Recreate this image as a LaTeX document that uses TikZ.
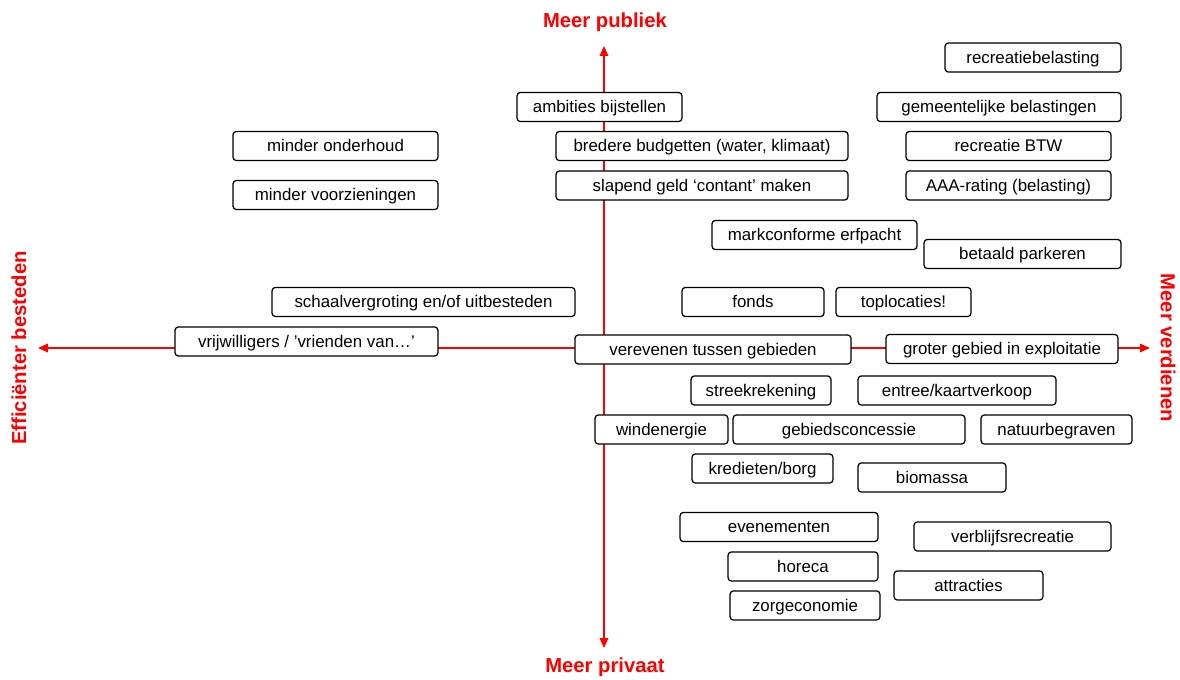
\documentclass[tikz,border=0pt]{standalone}
\usepackage{fontspec}
\setmainfont{Liberation Sans}
\usetikzlibrary{arrows.meta}

\begin{document}
\begin{tikzpicture}[
    x=0.025cm, y=-0.025cm,
    box/.style={draw, rounded corners=2.5pt, line width=0.9pt, fill=white,
                minimum height=0.73cm, inner sep=0pt,
                text height=11pt, text depth=2.5pt,
                font=\fontsize{12}{14}\selectfont},
    w/.style={minimum width=#1*0.025cm},
    axis/.style={red, line width=1pt, -{Triangle[length=7pt, width=6pt]}},
    axislabel/.style={red, font=\fontsize{14.4}{16}\selectfont\bfseries}
]
\useasboundingbox (0,0) rectangle (1180,679);

\coordinate (centre) at (604,348);
\coordinate (top)    at (604,46);
\coordinate (bottom) at (604,648);
\coordinate (left)   at (38,348);
\coordinate (right)  at (1150,348);

\draw[axis] (centre) -- (top);
\draw[axis] (centre) -- (bottom);
\draw[axis] (centre) -- (left);
\draw[axis] (centre) -- (right);

% Axis labels
\node[axislabel] (publiek) at (605,22)  {Meer publiek};
\node[axislabel] (privaat) at (605,667) {Meer privaat};
\node[axislabel, rotate=90]  (besteden)  at (19,348)   {Efficiënter besteden};
\node[axislabel, rotate=-90] (verdienen) at (1168,348) {Meer verdienen};

% Top half
\node[box, w=176] (recrbel)   at (1033,57.5)  {recreatiebelasting};
\node[box, w=165] (ambities)  at (599.5,107)  {ambities bijstellen};
\node[box, w=244] (gemeente)  at (999,107)    {gemeentelijke belastingen};
\node[box, w=205] (onderhoud) at (335.5,146)  {minder onderhoud};
\node[box, w=292] (budget)    at (702,146)    {bredere budgetten (water, klimaat)};
\node[box, w=205] (btw)       at (1008.5,146) {recreatie BTW};
\node[box, w=205] (voorz)     at (335.5,195)  {minder voorzieningen};
\node[box, w=292] (slapend)   at (702,185.5)  {slapend geld ‘contant’ maken};
\node[box, w=205] (aaa)       at (1008.5,185.5) {AAA-rating (belasting)};
\node[box, w=205] (erfpacht)  at (814.5,235)  {markconforme erfpacht};
\node[box, w=197] (parkeren)  at (1022.5,254) {betaald parkeren};
\node[box, w=303] (schaal)    at (423.5,302)  {schaalvergroting en/of uitbesteden};
\node[box, w=142] (fonds)     at (753,302)    {fonds};
\node[box, w=135] (toploc)    at (903.5,302)  {toplocaties!};

% Along the horizontal axis
\node[box, w=263] (vrijw)     at (306.5,341.5) {vrijwilligers / ’vrienden van…’};
\node[box, w=276] (verevenen) at (713,349.5)  {verevenen tussen gebieden};
\node[box, w=232] (groter)    at (1002,349)   {groter gebied in exploitatie};

% Bottom half
\node[box, w=140] (streek)    at (761,390.5)  {streekrekening};
\node[box, w=198] (entree)    at (957,390.5)  {entree/kaartverkoop};
\node[box, w=133] (wind)      at (661.5,429.5) {windenergie};
\node[box, w=232] (concessie) at (849,429.5)  {gebiedsconcessie};
\node[box, w=151] (natuur)    at (1056.5,429.5) {natuurbegraven};
\node[box, w=141] (krediet)   at (762.5,468.5) {kredieten/borg};
\node[box, w=148] (biomassa)  at (932,477.5)  {biomassa};
\node[box, w=198] (evenement) at (779,527)    {evenementen};
\node[box, w=197] (verblijf)  at (1012.5,536.5) {verblijfsrecreatie};
\node[box, w=150] (horeca)    at (803,566.5)  {horeca};
\node[box, w=149] (attractie) at (968.5,585.5) {attracties};
\node[box, w=150] (zorg)      at (805,605.5)  {zorgeconomie};

\end{tikzpicture}
\end{document}
